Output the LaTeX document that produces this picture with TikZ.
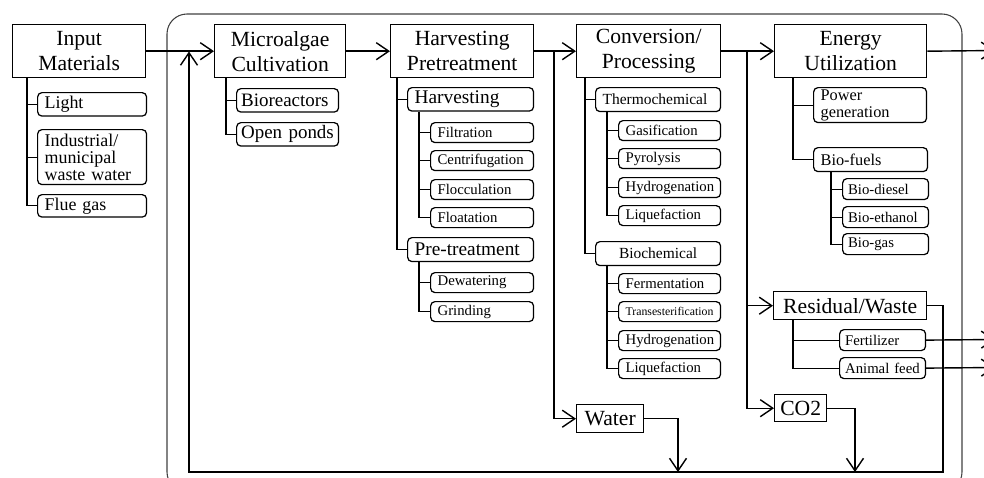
\documentclass[tikz,border=0pt]{standalone}
\usepackage{fontspec}
\setmainfont{Liberation Serif}
\usetikzlibrary{arrows.meta}

\newcommand\mainfs{\fontsize{12.3}{14.2}\selectfont}
\newcommand\subfs{\fontsize{10.2}{9.7}\selectfont}
\newcommand\midfs{\fontsize{8.8}{9.6}\selectfont}
\newcommand\leaffs{\fontsize{8.4}{9.6}\selectfont}

\tikzset{
  mainbox/.style={draw, line width=0.8pt, anchor=north west, inner sep=0pt,
    minimum height=10.6mm, align=center, font=\mainfs},
  subbox/.style={draw, line width=0.7pt, rounded corners=2.5pt, anchor=north west,
    inner xsep=1.4mm, inner ysep=0pt, align=left, text width=#1},
  flow/.style={-{Straight Barb[length=2.5mm,width=3.4mm]}, line width=0.8pt},
  tree/.style={line width=0.6pt},
  frame/.style={draw=black!75, line width=0.6pt, rounded corners=4mm},
}

\begin{document}
\begin{tikzpicture}[x=0.02cm, y=-0.02cm]
      \useasboundingbox (0,0) rectangle (984,477);
      \def\lh{4mm}   % leaf height
      \def\sh{4.7mm} % sub box height
      %
      \draw[frame] (167,14) rectangle (962,492);   % outer frame
      %
      % input materials
      \node[mainbox, minimum width=26.6mm] (inp) at (12,24) {Input\\Materials};
      \node[subbox=19mm, minimum height=\sh, font=\subfs] (light) at (37,92) {Light};
      \node[subbox=19mm, minimum height=11mm, font=\subfs] (ind) at (37,129) {Industrial/\\municipal\\waste water};
      \node[subbox=19mm, minimum height=4.5mm, font=\subfs] (flue) at (37,194) {Flue gas};
      \draw[tree] (inp.south west) ++(15,0) coordinate (t0) |- (light.west)
        (t0) |- (ind.west) (t0) |- (flue.west);
      %
      % microalgae cultivation
      \node[mainbox, minimum width=26.2mm] (micro) at (214,24) {Microalgae\\Cultivation};
      \node[subbox=18.6mm, inner xsep=0.9mm, minimum height=\sh, font=\fontsize{10.8}{12}\selectfont] (bior) at (236,88) {Bioreactors};
      \node[subbox=18.6mm, inner xsep=0.9mm, minimum height=\sh, font=\fontsize{10.8}{12}\selectfont] (pond) at (236,122) {Open ponds};
      \draw[tree] (micro.south west) ++(12,0) coordinate (t1) |- (bior.west) (t1) |- (pond.west);
      %
      % harvesting pretreatment
      \node[mainbox, minimum width=28.6mm] (harv) at (390,24) {Harvesting\\Pretreatment};
      \node[subbox=22.4mm, minimum height=\sh, font=\fontsize{11}{12}\selectfont] (hsub) at (407,87) {Harvesting};
      \node[subbox=17.8mm, minimum height=\lh, font=\leaffs] (filt) at (430,122) {Filtration};
      \node[subbox=17.8mm, minimum height=\lh, font=\leaffs] (centr) at (430,150) {Centrifugation};
      \node[subbox=17.8mm, minimum height=\lh, font=\leaffs] (flocc) at (430,179) {Flocculation};
      \node[subbox=17.8mm, minimum height=\lh, font=\leaffs] (float) at (430,207) {Floatation};
      \node[subbox=22.4mm, minimum height=4.8mm, font=\fontsize{11}{12}\selectfont] (ptr) at (407,237) {Pre-treatment};
      \node[subbox=17.8mm, minimum height=\lh, font=\leaffs] (dewat) at (430,272) {Dewatering};
      \node[subbox=17.8mm, minimum height=\lh, font=\leaffs] (grind) at (430,301) {Grinding};
      \draw[tree] (harv.south west) ++(7,0) coordinate (t2) |- (hsub.west) (t2) |- (ptr.west);
      \draw[tree] (hsub.south west) ++(12,0) coordinate (t3) |- (filt.west) (t3) |- (centr.west)
        (t3) |- (flocc.west) (t3) |- (float.west);
      \draw[tree] (ptr.south west) ++(12,0) coordinate (t4) |- (dewat.west) (t4) |- (grind.west);
      %
      % conversion / processing
      \node[mainbox, minimum width=28.8mm] (conv) at (576,24) {Conversion/\\Processing};
      \node[subbox=22.2mm, minimum height=4.8mm, font=\midfs] (thermo) at (595,87) {Thermochemical};
      \node[subbox=17.6mm, minimum height=\lh, font=\leaffs] (gasif) at (618,120) {Gasification};
      \node[subbox=17.6mm, minimum height=\lh, font=\leaffs] (pyro) at (618,148) {Pyrolysis};
      \node[subbox=17.6mm, minimum height=\lh, font=\leaffs] (hydroa) at (618,177) {Hydrogenation};
      \node[subbox=17.6mm, minimum height=\lh, font=\leaffs] (liquea) at (618,205) {Liquefaction};
      \node[subbox=22.2mm, minimum height=4.8mm, font=\midfs, align=center] (bioch) at (595,241) {Biochemical};
      \node[subbox=17.6mm, minimum height=\lh, font=\leaffs] (ferm) at (618,273) {Fermentation};
      \node[subbox=17.6mm, minimum height=\lh, font=\fontsize{6.7}{8}\selectfont] (trans) at (618,301) {Transesterification};
      \node[subbox=17.6mm, minimum height=\lh, font=\leaffs] (hydrob) at (618,330) {Hydrogenation};
      \node[subbox=17.6mm, minimum height=\lh, font=\leaffs] (liqueb) at (618,358) {Liquefaction};
      \draw[tree] (conv.south west) ++(9,0) coordinate (t5) |- (thermo.west) (t5) |- (bioch.west);
      \draw[tree] (thermo.south west) ++(12,0) coordinate (t6) |- (gasif.west) (t6) |- (pyro.west)
        (t6) |- (hydroa.west) (t6) |- (liquea.west);
      \draw[tree] (bioch.south west) ++(12,0) coordinate (t7) |- (ferm.west) (t7) |- (trans.west)
        (t7) |- (hydrob.west) (t7) |- (liqueb.west);
      %
      % energy utilization
      \node[mainbox, minimum width=30.4mm] (energy) at (774,24) {Energy\\Utilization};
      \node[subbox=19.8mm, minimum height=7mm, font=\fontsize{9.3}{9.6}\selectfont] (power) at (813,87) {Power\\generation};
      \node[subbox=20mm, minimum height=4.8mm, font=\fontsize{9.3}{10}\selectfont] (biof) at (813,147) {Bio-fuels};
      \node[subbox=15mm, inner xsep=1.1mm, minimum height=4.2mm, font=\leaffs] (bdies) at (842,178) {Bio-diesel};
      \node[subbox=15mm, inner xsep=1.1mm, minimum height=4.2mm, font=\leaffs] (beth) at (842,206) {Bio-ethanol};
      \node[subbox=15mm, inner xsep=1.1mm, minimum height=4.2mm, font=\leaffs] (bgas) at (842,233) {Bio-gas};
      \draw[tree] (energy.south west) ++(19,0) coordinate (t8) |- (power.west) (t8) |- (biof.west);
      \draw[tree] (biof.south west) ++(18,0) coordinate (t9) |- (bdies.west) (t9) |- (beth.west)
        (t9) |- (bgas.west);
      %
      % residual / waste, water, co2
      \node[mainbox, minimum width=30.6mm, minimum height=5.6mm] (resid) at (773,291) {Residual/Waste};
      \node[subbox=15mm, inner xsep=1.1mm, minimum height=4.2mm, font=\leaffs] (fert) at (839,329) {Fertilizer};
      \node[subbox=15mm, inner xsep=1.1mm, minimum height=4.2mm, font=\leaffs] (feed) at (839,357) {Animal feed};
      \draw[tree] (resid.south west) ++(20,0) coordinate (t10) |- (fert.west) (t10) |- (feed.west);
      \node[mainbox, minimum width=13.4mm, minimum height=5.6mm] (water) at (576,404) {Water};
      \node[mainbox, minimum width=10.4mm, minimum height=5.4mm] (co2) at (774,394) {CO2};
      %
      % main flow
      \coordinate (jw) at (554,50.5);
      \coordinate (jc) at (747,50.5);
      \coordinate (rw) at (678,472);
      \coordinate (rc) at (855,472);
      \coordinate (ret) at (943,472);
      \coordinate (retin) at (189,51.5);
      \coordinate (eout) at (995,50.5);
      \coordinate (fout) at (995,339.5);
      \coordinate (aout) at (995,367.5);
      \draw[flow] (inp) -- (micro);
      \draw[flow] (micro) -- (harv);
      \draw[flow] (harv) -- (conv);
      \draw[flow] (conv) -- (energy);
      \draw[flow] (jw) |- (water.west);
      \draw[flow] (jc) |- (resid.west);
      \draw[flow] (jc) |- (co2.west);
      \draw[flow] (water.east) -| (rw);
      \draw[flow] (co2.east) -| (rc);
      \draw[flow] (resid.east) -| (ret) -| (retin);
      \draw[flow] (energy.east) -- (eout);
      \draw[flow] (fert.east) -- (fout);
      \draw[flow] (feed.east) -- (aout);
      %
\end{tikzpicture}
\end{document}
